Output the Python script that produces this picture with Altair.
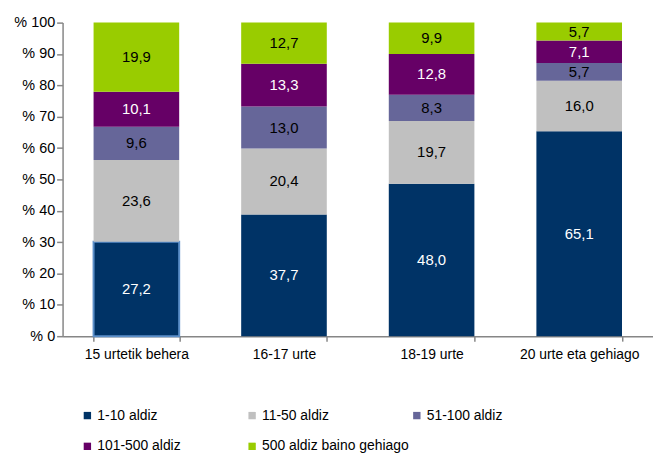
import altair as alt
import pandas as pd

categories = ["15 urtetik behera", "16-17 urte", "18-19 urte", "20 urte eta gehiago"]
series = ["1-10 aldiz", "11-50 aldiz", "51-100 aldiz", "101-500 aldiz", "500 aldiz baino gehiago"]
v_1_10 = [27.2, 37.7, 48.0, 65.1]
v_11_50 = [23.6, 20.4, 19.7, 16.0]
v_51_100 = [9.6, 13.0, 8.3, 5.7]
v_101_500 = [10.1, 13.3, 12.8, 7.1]
v_500 = [19.9, 12.7, 9.9, 5.7]
y_ticks = [0, 10, 20, 30, 40, 50, 60, 70, 80, 90, 100]
colors = ["#003366", "#C0C0C0", "#666699", "#660066", "#99CC00"]
label_colors = ["white", "black", "black", "white", "black"]

all_vals = [v_1_10, v_11_50, v_51_100, v_101_500, v_500]
rows = []
for si, (s, vals) in enumerate(zip(series, all_vals)):
    for ci, c in enumerate(categories):
        rows.append({
            "cat": c, "series": s, "order": si, "value": vals[ci],
            "label": f"{vals[ci]:.1f}".replace(".", ","),
            "tcolor": label_colors[si],
        })
df = pd.DataFrame(rows)

FONT = "Liberation Sans"
AX = "#868686"

base = alt.Chart(df).transform_stack(
    stack="value", groupby=["cat"], as_=["s0", "s1"], offset="normalize",
    sort=[alt.SortField("order", order="ascending")]
).transform_calculate(
    y0="datum.s0*100", y1="datum.s1*100", mid="(datum.s0+datum.s1)*50"
)

xscale = alt.Scale(paddingInner=0.42, paddingOuter=0.21)
yscale = alt.Scale(domain=[0, 100])
xaxis = alt.Axis(title=None, labelAngle=0, tickBand="extent",
                 labelFont=FONT, labelFontSize=14, labelColor="black", labelPadding=6,
                 domainColor=AX, domainWidth=1.5, tickColor=AX, tickWidth=1.5, tickSize=5)
yaxis = alt.Axis(title=None, values=y_ticks,
                 labelOverlap=False, labelExpr="'% ' + datum.value",
                 labelFont=FONT, labelFontSize=14.5, labelColor="black", labelPadding=2,
                 domainColor=AX, domainWidth=1.5, tickColor=AX, tickWidth=1.5, tickSize=6,
                 grid=False)

bars = base.mark_bar(strokeWidth=2).encode(
    x=alt.X("cat:N", sort=categories, scale=xscale, axis=xaxis),
    y=alt.Y("y0:Q", scale=yscale, axis=yaxis),
    y2="y1:Q",
    color=alt.Color("series:N", scale=alt.Scale(domain=series, range=colors),
                    legend=alt.Legend(title=None, orient="none", legendX=18, legendY=389,
                                      direction="horizontal",
                                      columns=3, gridAlign="all", symbolType="square",
                                      symbolSize=55, symbolStrokeWidth=0,
                                      labelFont=FONT, labelFontSize=14,
                                      labelColor="black", columnPadding=1, rowPadding=17,
                                      labelOffset=3, labelLimit=300)),
    stroke=alt.condition("datum.cat == '15 urtetik behera' && datum.order == 0",
                         alt.value("#5B8FC9"), alt.value("transparent")),
)

texts = base.mark_text(fontSize=15, font=FONT).encode(
    x=alt.X("cat:N", sort=categories, axis=None),
    y=alt.Y("mid:Q", axis=None),
    text="label:N",
    color=alt.Color("tcolor:N", scale=None),
)

chart = alt.layer(bars, texts).resolve_axis(x="independent", y="independent").properties(
    width=595, height=316,
    padding={"left": 5, "top": 5, "right": 0, "bottom": 0},
).configure(font=FONT).configure_view(stroke=None)

chart.save("out.html", embed_options={"renderer": "svg", "actions": False})
